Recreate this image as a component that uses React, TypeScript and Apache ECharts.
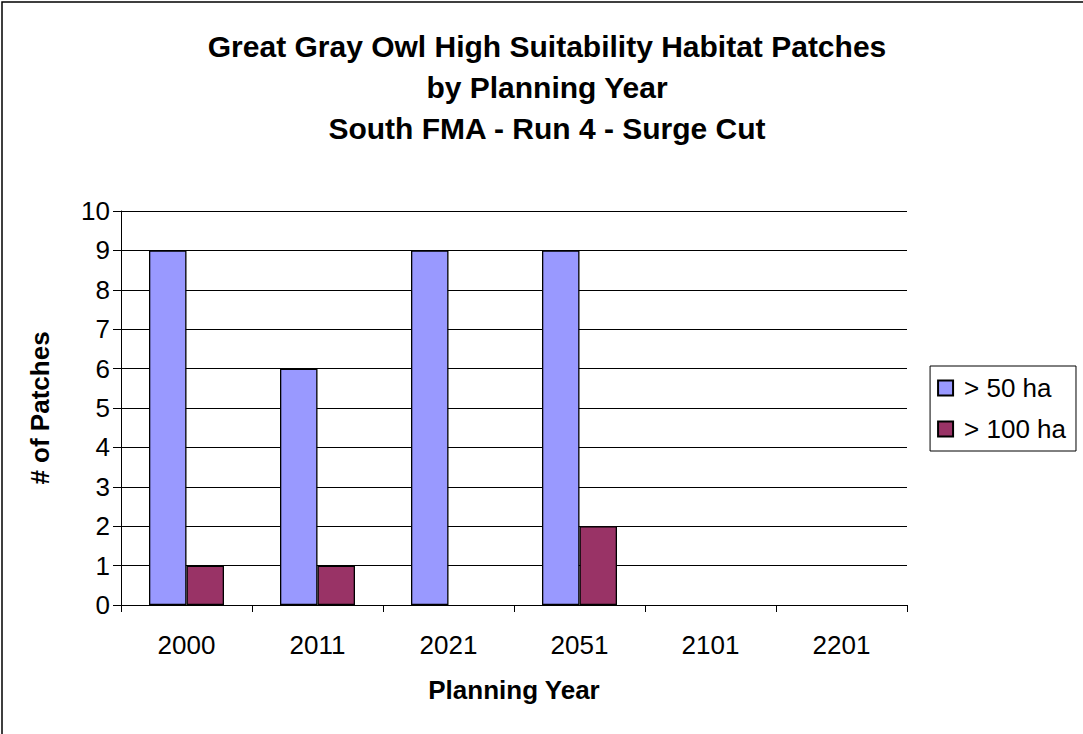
import React, { useEffect, useRef } from "react";
import * as echarts from "echarts";

const titleLines = [
  "Great Gray Owl High Suitability Habitat Patches",
  "by Planning Year",
  "South FMA - Run 4 - Surge Cut",
];
const categories = ["2000", "2011", "2021", "2051", "2101", "2201"];
const seriesNames = ["> 50 ha", "> 100 ha"];
const over50 = [9, 6, 9, 9, 0, 0];
const over100 = [1, 1, 0, 2, 0, 0];
const yTicks = [0, 1, 2, 3, 4, 5, 6, 7, 8, 9, 10];
const colors = ["#9999FF", "#993366"];

const FONT = "'Liberation Sans', Arial, sans-serif";

export default function App() {
  const ref = useRef<HTMLDivElement>(null);
  useEffect(() => {
    if (!ref.current) return;
    const chart = echarts.init(ref.current, null, { renderer: "svg" });
    const barStyle = (c: string) => ({ color: c, borderColor: "#000", borderWidth: 1.3 });
    const toData = (arr: number[]) =>
      arr.map((v) => (v === 0 ? { value: v, itemStyle: { borderWidth: 0 } } : v));
    chart.setOption({
      animation: false,
      backgroundColor: "#fff",
      textStyle: { fontFamily: FONT },
      title: {
        text: titleLines.join("\n"),
        left: 542,
        top: 21,
        textAlign: "center",
        textStyle: { fontFamily: FONT, fontSize: 30, fontWeight: "bold", color: "#000", lineHeight: 41 },
      },
      graphic: [
        {
          type: "rect",
          shape: { x: 2, y: 2, width: 1200, height: 900 },
          style: { fill: "none", stroke: "#000", lineWidth: 1.5 },
          silent: true,
        },
      ],
      legend: {
        orient: "vertical",
        right: 7,
        top: 366,
        padding: [9, 10, 9, 7],
        itemWidth: 15,
        itemHeight: 15,
        itemGap: 15,
        borderColor: "#000",
        borderWidth: 1,
        backgroundColor: "#fff",
        textStyle: { fontFamily: FONT, fontSize: 26, color: "#000", padding: [0, 0, 0, 6] },
        data: seriesNames.map((n) => ({ name: n, icon: "rect" })),
      },
      grid: { left: 121, top: 211, width: 786, height: 394, containLabel: false },
      xAxis: {
        type: "category",
        data: categories,
        name: "Planning Year",
        nameLocation: "middle",
        nameGap: 72,
        nameTextStyle: { fontFamily: FONT, fontSize: 26, fontWeight: "bold", color: "#000" },
        axisLine: { show: true, lineStyle: { color: "#000", width: 1 } },
        axisTick: { show: true, length: 7, inside: false, alignWithLabel: false, lineStyle: { color: "#000" } },
        axisLabel: { fontFamily: FONT, fontSize: 26, color: "#000", margin: 27 },
        splitLine: { show: false },
      },
      yAxis: {
        type: "value",
        min: yTicks[0],
        max: yTicks[yTicks.length - 1],
        interval: 1,
        name: "# of Patches",
        nameLocation: "middle",
        nameRotate: 90,
        nameGap: 68,
        nameTextStyle: { fontFamily: FONT, fontSize: 26, fontWeight: "bold", color: "#000" },
        axisLine: { show: true, lineStyle: { color: "#000", width: 1 } },
        axisTick: { show: true, length: 8, inside: false, lineStyle: { color: "#000" } },
        axisLabel: { fontFamily: FONT, fontSize: 26, color: "#000", margin: 11 },
        splitLine: { show: true, lineStyle: { color: "#000", width: 1 } },
      },
      series: [
        {
          name: seriesNames[0],
          type: "bar",
          data: toData(over50),
          barWidth: 37.5,
          barGap: "0%",
          itemStyle: barStyle(colors[0]),
        },
        {
          name: seriesNames[1],
          type: "bar",
          data: toData(over100),
          barWidth: 37.5,
          barGap: "0%",
          itemStyle: barStyle(colors[1]),
        },
      ],
    });
    return () => chart.dispose();
  }, []);
  return (
    <div
      ref={ref}
      style={{ position: "absolute", left: 0, top: 0, width: 1083, height: 734 }}
    />
  );
}
